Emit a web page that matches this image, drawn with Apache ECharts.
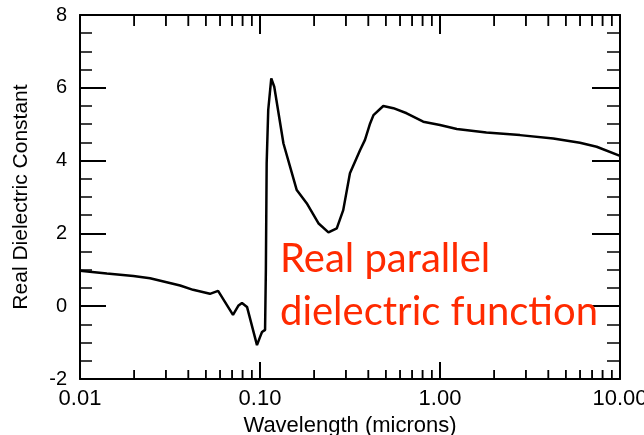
<!DOCTYPE html>
<html>
<head>
<meta charset="utf-8">
<script src="https://cdn.jsdelivr.net/npm/echarts@6/dist/echarts.min.js"></script>
<style>
html,body{margin:0;padding:0;background:#fff;}
#chart{width:644px;height:435px;}
</style>
</head>
<body>
<div id="chart"></div>
<script>
// Wavelength (microns)
var wavelength = [
  0.0100, 0.0141, 0.0198, 0.0245, 0.0303, 0.0360, 0.0425, 0.0527, 0.0585,
  0.0708, 0.0760, 0.0794, 0.0847, 0.0962, 0.1000, 0.1026, 0.1067,
  0.1078, 0.1089, 0.1111, 0.1155, 0.1200, 0.1350, 0.1470, 0.1600, 0.1817,
  0.2110, 0.2400, 0.2670, 0.2900, 0.3160, 0.3600, 0.3830, 0.4090, 0.4270,
  0.4840, 0.5510, 0.6530, 0.8070, 1.0000, 1.2400, 1.8100, 2.7800, 4.2600,
  5.9900, 7.4200, 10.000
];
// Real dielectric constant
var epsReal = [
  0.975, 0.90, 0.83, 0.77, 0.66, 0.57, 0.45, 0.34, 0.42,
  -0.24, 0.02, 0.09, -0.02, -1.07, -0.85, -0.71, -0.65,
  1.00, 3.93, 5.39, 6.26, 6.03, 4.47, 3.83, 3.19, 2.83,
  2.28, 2.03, 2.14, 2.64, 3.65, 4.29, 4.57, 5.02, 5.25,
  5.50, 5.44, 5.30, 5.07, 4.98, 4.87, 4.77, 4.70, 4.61,
  4.49, 4.38, 4.13
];
var xTickLabels = ['0.01', '0.10', '1.00', '10.00'];
var yTickLabels = ['-2', '0', '2', '4', '6', '8'];
var minorMultipliers = [2, 3, 4, 5, 6, 7, 8, 9];
var decades = [0.01, 0.1, 1];
var annotationLines = ['Real parallel', 'dielectric function'];

var xMinorTicks = [];
decades.forEach(function (d) {
  minorMultipliers.forEach(function (m) { xMinorTicks.push(d * m); });
});

var chart = echarts.init(document.getElementById('chart'));
var black = '#000';
var FONT = 'Liberation Sans, Arial, Helvetica, sans-serif';
var RED = '#ff2a00';
var Y_MIN = -2, Y_MAX = 8;
var PLOT_H = 435 - 15 - 56;
function pxToY(px) { return px * (Y_MAX - Y_MIN) / PLOT_H; }

function xLabel(v) {
  var idx = Math.round(Math.log10(v)) + 2;
  return xTickLabels[idx] !== undefined ? xTickLabels[idx] : '';
}

// minor x ticks as short line segments (bottom and top edges), broken by nulls
function tickSegments(values, lenBottomPx, lenTopPx) {
  var d = [];
  values.forEach(function (v) {
    d.push([v, Y_MIN], [v, Y_MIN + pxToY(lenBottomPx)], [v, null]);
    d.push([v, Y_MAX], [v, Y_MAX - pxToY(lenTopPx)], [v, null]);
  });
  return d;
}

var option = {
  animation: false,
  backgroundColor: '#fff',
  grid: { left: 80, right: 24, top: 15, bottom: 56, outerBoundsMode: 'none' },
  xAxis: [
    {
      type: 'log', min: 0.01, max: 10, position: 'bottom',
      axisLine: { show: true, onZero: true, onZeroAxisIndex: 2, lineStyle: { color: black, width: 2 } },
      axisTick: { show: true, inside: true, length: 17, lineStyle: { color: black, width: 2 } },
      axisLabel: { show: true, color: black, fontFamily: FONT, fontSize: 22, margin: 9, formatter: xLabel },
      splitLine: { show: false },
      name: 'Wavelength (microns)', nameLocation: 'middle', nameGap: 31,
      nameTextStyle: { color: black, fontFamily: FONT, fontSize: 22 }
    },
    {
      type: 'log', min: 0.01, max: 10, position: 'top',
      axisLine: { show: true, onZero: true, onZeroAxisIndex: 2, lineStyle: { color: black, width: 2 } },
      axisTick: { show: true, inside: true, length: 19, lineStyle: { color: black, width: 2 } },
      axisLabel: { show: false },
      splitLine: { show: false }
    }
  ],
  yAxis: [
    {
      type: 'value', min: Y_MIN, max: Y_MAX, interval: 2, position: 'left',
      axisLine: { show: true, lineStyle: { color: black, width: 2 } },
      axisTick: { show: true, inside: true, length: 26, lineStyle: { color: black, width: 2 } },
      minorTick: { show: true, splitNumber: 4, length: 12, lineStyle: { color: black, width: 1.5 } },
      axisLabel: {
        show: true, color: black, fontFamily: FONT, fontSize: 20, margin: 13,
        formatter: function (v) { var i = Math.round((v + 2) / 2); return yTickLabels[i]; }
      },
      splitLine: { show: false },
      name: 'Real Dielectric Constant', nameLocation: 'middle', nameGap: 48,
      nameTextStyle: { color: black, fontFamily: FONT, fontSize: 21 }
    },
    {
      type: 'value', min: Y_MIN, max: Y_MAX, interval: 2, position: 'right',
      axisLine: { show: true, lineStyle: { color: black, width: 2 } },
      axisTick: { show: true, inside: true, length: 28, lineStyle: { color: black, width: 2 } },
      minorTick: { show: true, splitNumber: 4, length: 13, lineStyle: { color: black, width: 1.5 } },
      axisLabel: { show: false },
      splitLine: { show: false }
    },
    {
      // helper axis without zero, so the x axes stay on the frame edges
      type: 'value', min: 1, max: 2, show: false
    }
  ],
  series: [
    {
      type: 'line',
      xAxisIndex: 0, yAxisIndex: 0,
      data: wavelength.map(function (w, i) { return [w, epsReal[i]]; }),
      showSymbol: false, symbol: 'none',
      lineStyle: { color: black, width: 2.5 },
      itemStyle: { color: black },
      z: 3
    },
    {
      type: 'line',
      xAxisIndex: 0, yAxisIndex: 0,
      data: tickSegments(xMinorTicks, 9, 11),
      connectNulls: false,
      showSymbol: false, symbol: 'none',
      lineStyle: { color: black, width: 1.5 },
      itemStyle: { color: black },
      silent: true,
      z: 4
    },
    {
      type: 'custom',
      xAxisIndex: 0, yAxisIndex: 0,
      data: xMinorTicks.map(function (v) { return [v, Y_MIN]; }),
      clip: false,
      renderItem: function (params, api) {
        var v = api.value(0);
        var b = api.coord([v, Y_MIN]);
        var t = api.coord([v, Y_MAX]);
        return {
          type: 'group',
          children: [
            { type: 'line', shape: { x1: b[0], y1: b[1], x2: b[0], y2: b[1] - 9 }, style: { stroke: black, lineWidth: 1.5 } },
            { type: 'line', shape: { x1: t[0], y1: t[1], x2: t[0], y2: t[1] + 11 }, style: { stroke: black, lineWidth: 1.5 } }
          ]
        };
      },
      silent: true,
      z: 4
    }
  ],
  title: {
    text: annotationLines.join('\n'),
    left: 280, top: 233,
    padding: 0,
    textStyle: { color: RED, fontFamily: 'Lato, "Open Sans", sans-serif', fontSize: 40, fontWeight: 'normal', lineHeight: 53 }
  }
};
chart.setOption(option);
</script>
</body>
</html>
